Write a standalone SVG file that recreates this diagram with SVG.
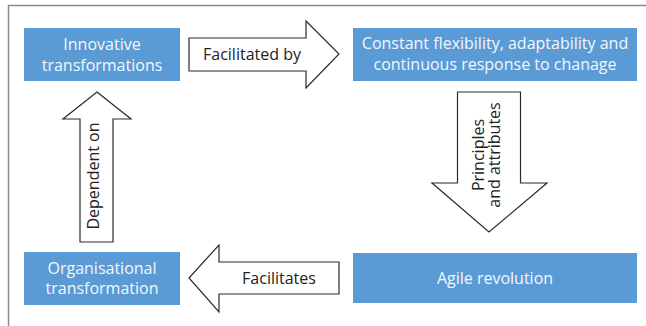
<svg xmlns="http://www.w3.org/2000/svg" width="646" height="326" viewBox="0 0 646 326">
<style>
.box{fill:#5b9bd5}
.bt{font-family:"Open Sans","Liberation Sans",sans-serif;font-size:16px;fill:#f4f7fb;text-anchor:middle}
.arr{fill:#ffffff;stroke:#2b2b2b;stroke-width:1.2;stroke-linejoin:miter}
.at{font-family:"Open Sans","Liberation Sans",sans-serif;font-size:16px;fill:#222222;text-anchor:middle}
.frame{fill:none;stroke:#8a8a8a;stroke-width:1.5}
</style>
<rect width="646" height="326" fill="#ffffff"/>
<path class="frame" d="M8.5,326 V5.5 H646"/>
<g id="connectors">
<g id="arrow-facilitated-by">
<polygon class="arr" points="189,38 306,38 306,21 339,54 306,88 306,71 189,71"/>
<text class="at" x="252" y="59.5">Facilitated by</text>
</g>
<g id="arrow-principles">
<polygon class="arr" points="457.5,92 520.5,92 520.5,183 547,183 489,232 432,183 457.5,183"/>
<text class="at" transform="translate(484,155) rotate(-90)">Principles</text>
<text class="at" transform="translate(500,155) rotate(-90)">and attributes</text>
</g>
<g id="arrow-facilitates">
<polygon class="arr" points="189,278 219,245 219,262 339,262 339,294 219,294 219,312"/>
<text class="at" x="279" y="283.5">Facilitates</text>
</g>
<g id="arrow-dependent-on">
<polygon class="arr" points="97,92 131,119 113,119 113,242 80,242 80,119 63,119"/>
<text class="at" transform="translate(99,176) rotate(-90)">Dependent on</text>
</g>
</g>
<g id="node-innovative">
<rect class="box" x="24" y="28" width="156" height="53"/>
<text class="bt" x="102" y="49.5">Innovative</text>
<text class="bt" x="102" y="70.5">transformations</text>
</g>
<g id="node-constant">
<rect class="box" x="353" y="28" width="284" height="53"/>
<text class="bt" x="495" y="48.5">Constant flexibility, adaptability and</text>
<text class="bt" x="495" y="69.5">continuous response to chanage</text>
</g>
<g id="node-agile">
<rect class="box" x="353" y="253" width="284" height="50"/>
<text class="bt" x="495" y="283.5">Agile revolution</text>
</g>
<g id="node-organisational">
<rect class="box" x="24" y="252" width="156" height="53"/>
<text class="bt" x="102" y="273.5">Organisational</text>
<text class="bt" x="102" y="293.5">transformation</text>
</g>
</svg>
